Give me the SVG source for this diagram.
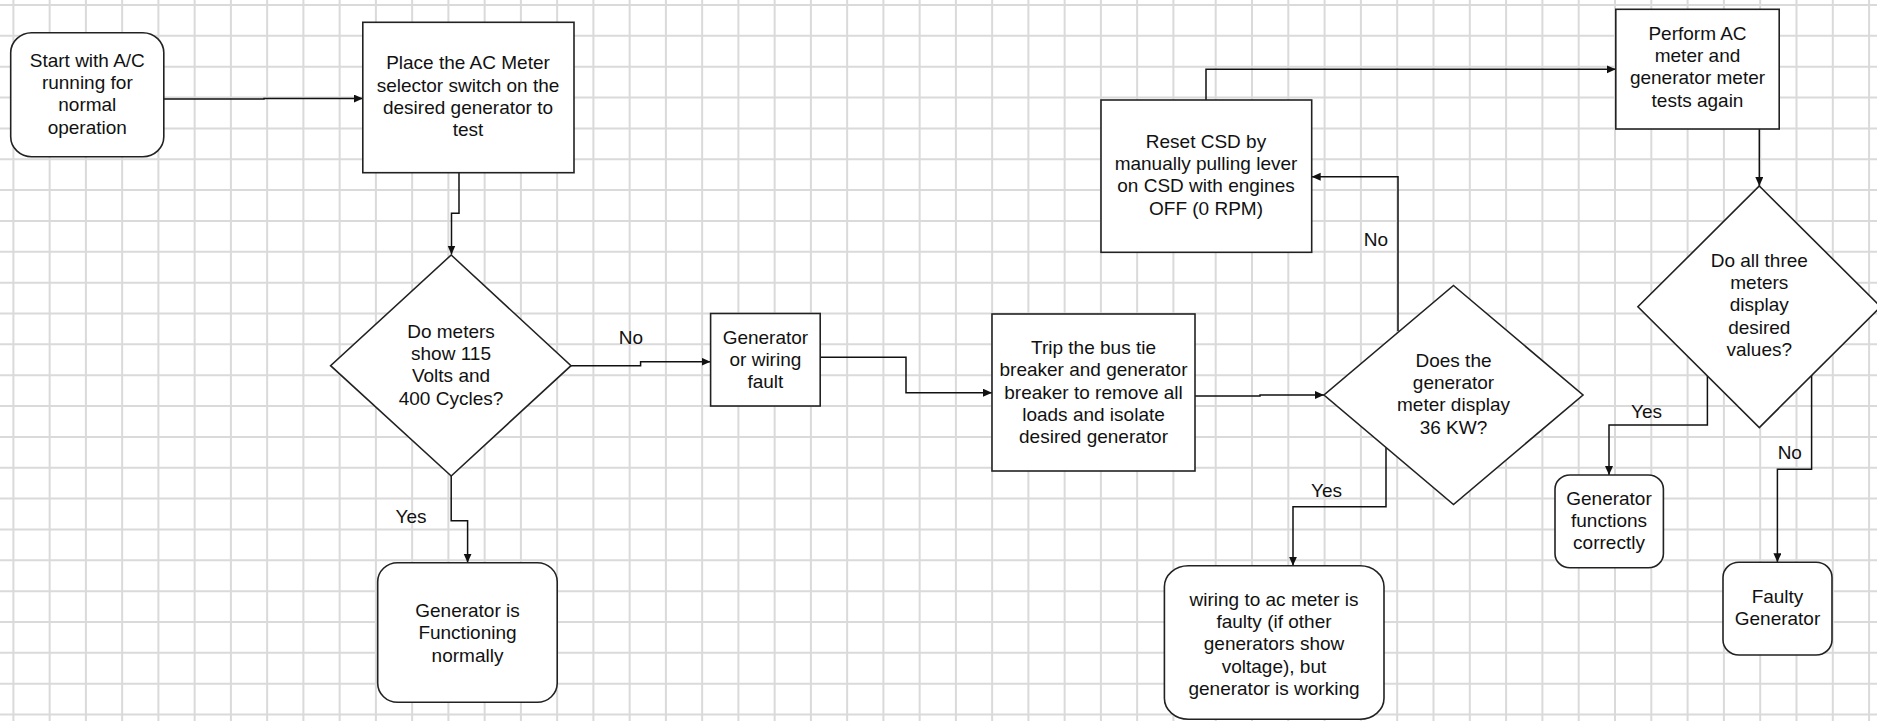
<svg xmlns="http://www.w3.org/2000/svg" width="1877" height="721" viewBox="0 0 1877 721">
<style>
.grid{stroke:#dadada;stroke-width:2;fill:none}
.node{fill:#fff;stroke:#222;stroke-width:1.6}
.conn{fill:none;stroke:#111;stroke-width:1.5}
text{font-family:"Liberation Sans",Arial,sans-serif;font-size:19px;fill:#111;text-anchor:middle}
</style>
<defs>
<marker id="arr" markerUnits="userSpaceOnUse" markerWidth="10" markerHeight="9" refX="9" refY="4" orient="auto">
<path d="M0,0 L9,4 L0,8 Z" fill="#111"/>
</marker>
</defs>
<rect width="1877" height="721" fill="#fff"/>
<path class="grid" d="M13.4 0V721M49.65 0V721M85.9 0V721M122.15 0V721M158.4 0V721M194.65 0V721M230.9 0V721M267.15 0V721M303.4 0V721M339.65 0V721M375.9 0V721M412.15 0V721M448.4 0V721M484.65 0V721M520.9 0V721M557.15 0V721M593.4 0V721M629.65 0V721M665.9 0V721M702.15 0V721M738.4 0V721M774.65 0V721M810.9 0V721M847.15 0V721M883.4 0V721M919.65 0V721M955.9 0V721M992.15 0V721M1028.4 0V721M1064.65 0V721M1100.9 0V721M1137.15 0V721M1173.4 0V721M1215.7 0V721M1252 0V721M1288.3 0V721M1324.6 0V721M1360.9 0V721M1397.2 0V721M1433.5 0V721M1469.8 0V721M1506.1 0V721M1542.4 0V721M1578.7 0V721M1615 0V721M1651.3 0V721M1687.6 0V721M1723.9 0V721M1760.2 0V721M1796.5 0V721M1832.8 0V721M1869.1 0V721M0 5H1877M0 35.85H1877M0 66.7H1877M0 97.55H1877M0 128.4H1877M0 159.25H1877M0 190.1H1877M0 220.95H1877M0 251.8H1877M0 282.65H1877M0 313.5H1877M0 344.35H1877M0 375.2H1877M0 406.05H1877M0 436.9H1877M0 467.75H1877M0 498.6H1877M0 529.45H1877M0 560.3H1877M0 591.15H1877M0 622H1877M0 652.85H1877M0 683.7H1877M0 714.55H1877"/>

<g id="connectors">
<path class="conn" marker-end="url(#arr)" d="M164,99 H264 V98.5 H362.8"/>
<path class="conn" marker-end="url(#arr)" d="M459,172.7 V213.3 H451.5 V254.5"/>
<path class="conn" marker-end="url(#arr)" d="M571,365.7 H640.6 V361.7 H710.5"/>
<path class="conn" marker-end="url(#arr)" d="M451.2,476 V520.7 H467.6 V562.7"/>
<path class="conn" marker-end="url(#arr)" d="M820,357.3 H906 V392.7 H992"/>
<path class="conn" marker-end="url(#arr)" d="M1195,396 H1260 V395 H1324"/>
<path class="conn" marker-end="url(#arr)" d="M1398,331 V176.7 H1311.7"/>
<path class="conn" marker-end="url(#arr)" d="M1206,100 V69.3 H1615.8"/>
<path class="conn" marker-end="url(#arr)" d="M1386,447.5 V506.7 H1293 V565.7"/>
<path class="conn" marker-end="url(#arr)" d="M1759.3,129 V186"/>
<path class="conn" marker-end="url(#arr)" d="M1707.4,376 V425 H1609 V475"/>
<path class="conn" marker-end="url(#arr)" d="M1811.6,375 V469.3 H1777.4 V562.3"/>
<text x="631" y="344">No</text>
<text x="411" y="523">Yes</text>
<text x="1376" y="245.5">No</text>
<text x="1326.5" y="497">Yes</text>
<text x="1646.6" y="418">Yes</text>
<text x="1789.8" y="459">No</text>
</g>

<g id="start">
<rect class="node" x="10.7" y="32.7" width="153.1" height="124" rx="21" ry="20"/>
<text x="87.3" y="66.7">Start with A/C</text>
<text x="87.3" y="89">running for</text>
<text x="87.3" y="111.3">normal</text>
<text x="87.3" y="133.6">operation</text>
</g>

<g id="place">
<rect class="node" x="362.8" y="22.3" width="211.2" height="150.4"/>
<text x="468" y="69.3">Place the AC Meter</text>
<text x="468" y="91.6">selector switch on the</text>
<text x="468" y="113.9">desired generator to</text>
<text x="468" y="136.2">test</text>
</g>

<g id="decision1">
<polygon class="node" points="451.2,255 571,365.7 451.2,476 330.6,365.7"/>
<text x="451" y="337.7">Do meters</text>
<text x="451" y="360">show 115</text>
<text x="451" y="382.3">Volts and</text>
<text x="451" y="404.6">400 Cycles?</text>
</g>

<g id="normal">
<rect class="node" x="377.7" y="562.7" width="179.5" height="139.6" rx="20" ry="19"/>
<text x="467.5" y="617">Generator is</text>
<text x="467.5" y="639.3">Functioning</text>
<text x="467.5" y="661.6">normally</text>
</g>

<g id="fault">
<rect class="node" x="710.6" y="313.5" width="109.6" height="92.5"/>
<text x="765.4" y="343.7">Generator</text>
<text x="765.4" y="366">or wiring</text>
<text x="765.4" y="388.3">fault</text>
</g>

<g id="trip">
<rect class="node" x="992" y="314" width="203" height="157"/>
<text x="1093.5" y="354.3">Trip the bus tie</text>
<text x="1093.5" y="376.4">breaker and generator</text>
<text x="1093.5" y="398.5">breaker to remove all</text>
<text x="1093.5" y="420.6">loads and isolate</text>
<text x="1093.5" y="442.7">desired generator</text>
</g>

<g id="decision2">
<polygon class="node" points="1453.5,285.5 1583,395 1453.5,504.5 1324,395"/>
<text x="1453.5" y="366.7">Does the</text>
<text x="1453.5" y="389">generator</text>
<text x="1453.5" y="411.3">meter display</text>
<text x="1453.5" y="433.6">36 KW?</text>
</g>

<g id="reset">
<rect class="node" x="1101" y="100" width="210.7" height="152.3"/>
<text x="1206" y="147.7">Reset CSD by</text>
<text x="1206" y="170">manually pulling lever</text>
<text x="1206" y="192.3">on CSD with engines</text>
<text x="1206" y="214.6">OFF (0 RPM)</text>
</g>

<g id="wiring">
<rect class="node" x="1164.4" y="565.7" width="219.6" height="153.5" rx="24" ry="21"/>
<text x="1274" y="606">wiring to ac meter is</text>
<text x="1274" y="628.2">faulty (if other</text>
<text x="1274" y="650.4">generators show</text>
<text x="1274" y="672.6">voltage), but</text>
<text x="1274" y="694.8">generator is working</text>
</g>

<g id="perform">
<rect class="node" x="1615.8" y="9.3" width="163.4" height="119.7"/>
<text x="1697.5" y="40">Perform AC</text>
<text x="1697.5" y="62.2">meter and</text>
<text x="1697.5" y="84.4">generator meter</text>
<text x="1697.5" y="106.6">tests again</text>
</g>

<g id="decision3">
<polygon class="node" points="1759.3,186 1880.7,306.8 1759.3,427.6 1637.9,306.8"/>
<text x="1759.3" y="267">Do all three</text>
<text x="1759.3" y="289.2">meters</text>
<text x="1759.3" y="311.4">display</text>
<text x="1759.3" y="333.6">desired</text>
<text x="1759.3" y="355.8">values?</text>
</g>

<g id="correct">
<rect class="node" x="1555" y="475" width="108.4" height="92.7" rx="15" ry="14"/>
<text x="1609" y="505">Generator</text>
<text x="1609" y="527.2">functions</text>
<text x="1609" y="549.4">correctly</text>
</g>

<g id="faulty">
<rect class="node" x="1723" y="562.3" width="109" height="92.7" rx="16" ry="15"/>
<text x="1777.5" y="602.7">Faulty</text>
<text x="1777.5" y="624.9">Generator</text>
</g>
</svg>
